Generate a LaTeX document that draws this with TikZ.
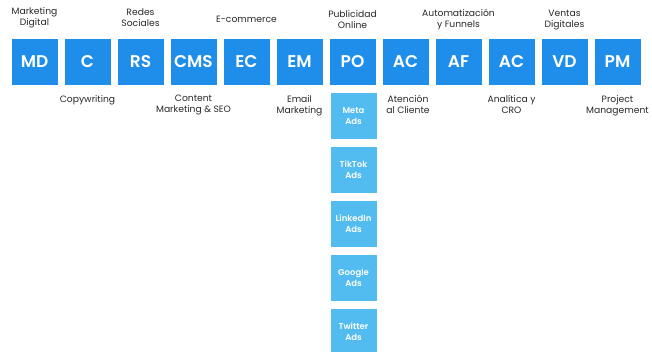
\documentclass[tikz,border=0pt]{standalone}
\usepackage{fontspec}
\setmainfont{Poppins}[BoldFont={Poppins SemiBold}]
\definecolor{mainblue}{RGB}{30,142,234}
\definecolor{subblue}{RGB}{82,188,240}
\definecolor{labelgray}{RGB}{40,40,40}
\begin{document}
\begin{tikzpicture}[x=1pt,y=-1pt,
  mainbox/.style={fill=mainblue,minimum width=46pt,minimum height=46pt,inner sep=0pt,text=white,font=\fontsize{17}{17}\selectfont\bfseries},
  subbox/.style={fill=subblue,minimum width=46pt,minimum height=46pt,inner sep=0pt,text=white,align=center,font=\fontsize{8.5}{11}\selectfont\bfseries},
  toplabel/.style={align=center,text=labelgray,font=\fontsize{9.2}{11}\selectfont,inner sep=0pt},
  botlabel/.style={align=center,text=labelgray,font=\fontsize{9.2}{11}\selectfont,inner sep=0pt,anchor=north}]
\useasboundingbox (0,0) rectangle (652,352);
\node[mainbox] (md) at (34.5,62) {MD};
\node[mainbox] (c) at (87.5,62) {C};
\node[mainbox] (rs) at (140.5,62) {RS};
\node[mainbox] (cms) at (193.5,62) {CMS};
\node[mainbox] (ec) at (246.5,62) {EC};
\node[mainbox] (em) at (299.5,62) {EM};
\node[mainbox] (po) at (352.5,62) {PO};
\node[mainbox] (ac) at (405.5,62) {AC};
\node[mainbox] (af) at (458.5,62) {AF};
\node[mainbox] (ac2) at (511.5,62) {AC};
\node[mainbox] (vd) at (564.5,62) {VD};
\node[mainbox] (pm) at (617.5,62) {PM};
\node[subbox] (meta) at (353.5,116) {Meta\\Ads};
\node[subbox] (tiktok) at (353.5,170) {TikTok\\Ads};
\node[subbox] (linkedin) at (353.5,224) {LinkedIn\\Ads};
\node[subbox] (google) at (353.5,278) {Google\\Ads};
\node[subbox] (twitter) at (353.5,332) {Twitter\\Ads};
\node[toplabel] (lmd) at (34.5,18) {Marketing\\Digital};
\node[toplabel] (lrs) at (140.5,18) {Redes\\Sociales};
\node[toplabel] (lec) at (246.5,19) {E-commerce};
\node[toplabel] (lpo) at (352.5,20) {Publicidad\\Online};
\node[toplabel] (laf) at (458.5,20) {Automatización\\y Funnels};
\node[toplabel] (lvd) at (564.5,20) {Ventas\\Digitales};
\node[botlabel] (lc) at (87.5,95) {Copywriting};
\node[botlabel] (lcms) at (193.5,95) {Content\\Marketing \& SEO};
\node[botlabel] (lem) at (299.5,95) {Email\\Marketing};
\node[botlabel] (lac) at (408,95) {Atención\\al Cliente};
\node[botlabel] (lac2) at (511.5,95) {Analítica y\\CRO};
\node[botlabel] (lpm) at (617.5,95) {Project\\Management};
\end{tikzpicture}
\end{document}
